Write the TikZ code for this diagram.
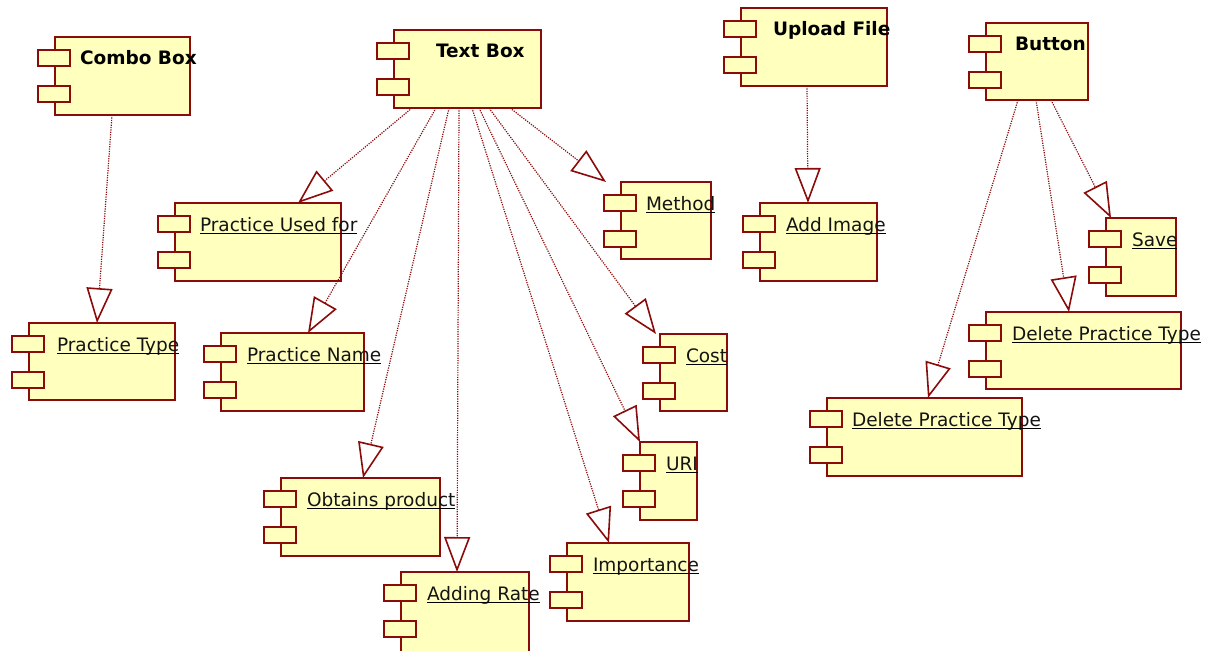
\documentclass[tikz,border=0pt]{standalone}
\usepackage{fontspec}
\setmainfont{DejaVu Sans}
\usetikzlibrary{arrows.meta}
\definecolor{umlred}{RGB}{139,10,10}
\definecolor{umlfill}{RGB}{255,255,190}
\definecolor{txt}{RGB}{20,20,20}
\tikzset{
  body/.style={draw=umlred, fill=umlfill, line width=1.4pt, inner sep=0pt, outer sep=0pt, anchor=north west},
  tabbox/.style={draw=umlred, fill=umlfill, line width=1.4pt, inner sep=0pt, outer sep=0pt, anchor=north west, minimum width=32pt, minimum height=16pt},
  lbl/.style={inner sep=0pt, outer sep=0pt, anchor=base west, text=txt, font=\fontsize{18.5}{20}\selectfont},
  blbl/.style={lbl, font=\fontsize{18.5}{20}\selectfont\bfseries, text=black},
  uline/.style={draw=black, line width=1.4pt},
  realize/.style={draw=umlred, line width=1.2pt, dash pattern=on 1.2pt off 1.2pt,
    -{Triangle[open, length=35pt, width=26pt, line width=1.6pt, fill=white]}},
}
% #1 name, #2 x1, #3 y1, #4 x2, #5 y2, #6 label x offset, #7 label, #8 style
\newcommand\compbox[8]{%
  \node[body, minimum width={(#4-#2)*1pt}, minimum height={(#5-#3)*1pt}] (#1) at (#2,#3) {};
  \node[tabbox] (#1-t1) at ([xshift=-17pt,yshift=-13pt]#1.north west) {};
  \node[tabbox] (#1-t2) at ([xshift=-17pt,yshift=-49pt]#1.north west) {};
  \node[#8] (#1-l) at ([xshift=#6pt,yshift=-28pt]#1.north west) {#7};
}
\newcommand\ucompbox[7]{%
  \compbox{#1}{#2}{#3}{#4}{#5}{#6}{#7}{lbl}
  \draw[uline] ([yshift=-2.5pt]#1-l.base west) -- ([yshift=-2.5pt]#1-l.base east);
}
\begin{document}
\begin{tikzpicture}[x=1pt,y=-1pt]
\useasboundingbox (0,0) rectangle (1209,650);
% bold source components
\compbox{combo}{55}{37}{190}{115}{25}{Combo Box}{blbl}
\compbox{tb}{394}{30}{541}{108}{42}{Text Box}{blbl}
\compbox{upl}{741}{8}{887}{86}{32}{Upload File}{blbl}
\compbox{btn}{986}{23}{1088}{100}{29}{Button}{blbl}
% targets
\ucompbox{ptype}{29}{323}{175}{400}{28}{Practice Type}
\ucompbox{pused}{175}{203}{341}{281}{25}{Practice Used for}
\ucompbox{pname}{221}{333}{364}{411}{26}{Practice Name}
\ucompbox{obt}{281}{478}{440}{556}{26}{Obtains product}
\ucompbox{rate}{401}{572}{529}{652}{26}{Adding Rate}
\ucompbox{imp}{567}{543}{689}{621}{26}{Importance}
\ucompbox{uri}{640}{442}{697}{520}{26}{URI}
\ucompbox{cost}{660}{334}{727}{411}{26}{Cost}
\ucompbox{meth}{621}{182}{711}{259}{25}{Method}
\ucompbox{addimg}{760}{203}{877}{281}{26}{Add Image}
\ucompbox{save}{1106}{218}{1176}{296}{26}{Save}
\ucompbox{delr}{986}{312}{1181}{389}{26}{Delete Practice Type}
\ucompbox{dell}{827}{398}{1022}{476}{25}{Delete Practice Type}
% connectors
\draw[realize] ([xshift=57pt]combo.south west) -- ([xshift=68pt]ptype.north west);
\draw[realize] ([xshift=18pt]tb.south west) -- ([xshift=123pt]pused.north west);
\draw[realize] ([xshift=42pt]tb.south west) -- ([xshift=87pt]pname.north west);
\draw[realize] ([xshift=55pt]tb.south west) -- ([xshift=82pt]obt.north west);
\draw[realize] ([xshift=65pt]tb.south west) -- ([xshift=56pt]rate.north west);
\draw[realize] ([xshift=78pt]tb.south west) -- ([xshift=42pt]imp.north west);
\draw[realize] ([xshift=85pt]tb.south west) -- ([xshift=0pt]uri.north west);
\draw[realize] ([xshift=95pt]tb.south west) -- ([xshift=-4pt]cost.north west);
\draw[realize] ([xshift=116pt]tb.south west) -- ([xshift=-15pt]meth.north west);
\draw[realize] ([xshift=66pt]upl.south west) -- ([xshift=48pt]addimg.north west);
\draw[realize] ([xshift=32pt]btn.south west) -- ([xshift=101pt]dell.north west);
\draw[realize] ([xshift=50pt]btn.south west) -- ([xshift=83pt]delr.north west);
\draw[realize] ([xshift=65pt]btn.south west) -- ([xshift=5pt]save.north west);
\end{tikzpicture}
\end{document}
